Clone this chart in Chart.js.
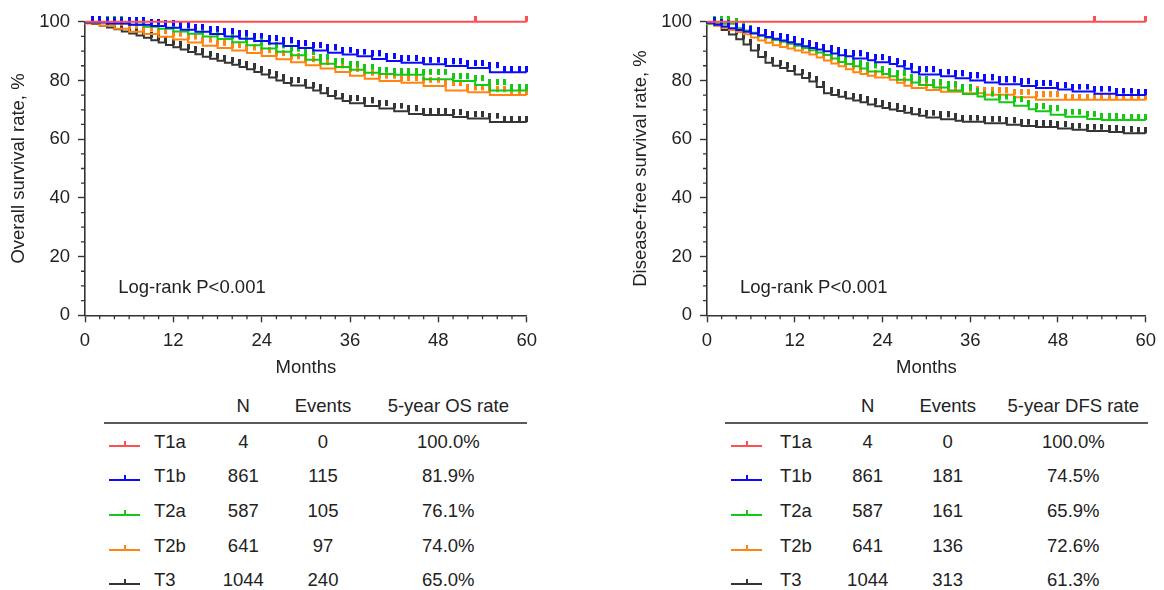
<!DOCTYPE html>
<html>
<head>
<meta charset="utf-8">
<script src="https://cdn.jsdelivr.net/npm/chart.js@4/dist/chart.umd.min.js"></script>
<style>
  body { margin: 0; background: #fff; width: 1164px; height: 590px; position: relative; overflow: hidden;
         font-family: "Liberation Sans", Arial, Helvetica, sans-serif; color: #222; }
  .wrap { position: absolute; top: 0; }
  .cell { position: absolute; font-size: 18.5px; line-height: 22px; white-space: nowrap; transform: translate(-50%, -50%); }
  .lab { position: absolute; font-size: 18.5px; line-height: 22px; white-space: nowrap; transform: translateY(-50%); }
  .rule { position: absolute; height: 2px; background: #5a5a5a; }
  .sym { position: absolute; height: 2px; width: 31px; }
  .sym i { position: absolute; left: 14.5px; bottom: 0; width: 2px; height: 6px; background: inherit; }
</style>
</head>
<body>
<div class="wrap" style="left:0;width:545px;height:390px"><canvas id="osChart" width="545" height="390"></canvas></div>
<div class="wrap" style="left:622px;width:542px;height:390px"><canvas id="dfsChart" width="542" height="390"></canvas></div>
<div id="tables"></div>
<script>
const groups = ['T1a', 'T1b', 'T2a', 'T2b', 'T3'];
const groupColors = ['#ff4f4f', '#0a0aff', '#14c814', '#ff8410', '#353535'];
const nPatients = [4, 861, 587, 641, 1044];
const osEvents = [0, 115, 105, 97, 240];
const osRates = ['100.0%', '81.9%', '76.1%', '74.0%', '65.0%'];
const dfsEvents = [0, 181, 161, 136, 313];
const dfsRates = ['100.0%', '74.5%', '65.9%', '72.6%', '61.3%'];

const xTickValues = [0, 12, 24, 36, 48, 60];
const yTickValues = [0, 20, 40, 60, 80, 100];
const maxMonth = 60;

// censoring ticks (months)
const censorMonths = [1, 2, 3, 4, 5, 6, 7, 8, 9, 10, 11, 12, 13, 14, 15, 16, 17, 18, 19, 20,
  21, 22, 23, 24, 25, 26, 27, 28, 29, 30, 31, 32, 33, 34, 35, 36, 37, 38, 39, 40,
  41, 42, 43, 44, 45, 46, 47, 48, 49, 50, 51, 52, 53, 54, 55, 56, 57, 58, 59, 60];
const censorT1a = [53, 60];

// step points [month, survival %]
const osT1a = [[0, 100]];
const osT1b = [[0, 100], [3, 99.7], [6, 99.4], [9, 99.0], [11, 98.5], [13, 97.9], [15, 97.3], [17, 96.6],
  [19, 95.8], [21, 95.0], [23, 94.2], [25, 93.4], [27, 92.6], [29, 91.7], [31, 91.0], [33, 90.2], [35, 89.4],
  [37, 88.8], [39, 88.2], [41, 87.3], [43, 86.6], [46, 86.0], [49, 85.5], [52, 84.9], [55, 84.2], [57, 82.8]];
const osT2a = [[0, 100], [3, 99.8], [6, 99.4], [8, 99.0], [10, 98.3], [12, 97.6], [14, 96.7], [16, 95.9],
  [18, 95.0], [20, 94.1], [22, 93.0], [24, 92.0], [26, 90.9], [28, 89.8], [30, 88.6], [32, 87.0], [34, 85.7],
  [36, 84.6], [38, 83.6], [40, 82.6], [42, 82.2], [46, 81.9], [50, 80.4], [53, 79.8], [55, 78.4], [58, 76.6]];
const osT2b = [[0, 100], [2, 99.4], [4, 98.6], [6, 97.6], [8, 96.6], [10, 95.8], [12, 94.9], [14, 93.9],
  [16, 92.9], [18, 91.8], [20, 91.0], [22, 90.2], [24, 89.3], [26, 88.3], [28, 87.2], [30, 86.2], [32, 85.2],
  [34, 84.1], [36, 82.9], [38, 81.6], [40, 80.6], [43, 79.8], [46, 79.2], [49, 78.1], [52, 76.6], [55, 76.0], [58, 75.0]];
const osT3 = [[0, 100], [1, 99.7], [2, 99.2], [3, 98.6], [4, 98.0], [5, 97.4], [6, 96.7], [7, 96.0], [8, 95.3],
  [9, 94.5], [10, 93.7], [11, 92.9], [12, 92.1], [13, 91.3], [14, 90.5], [15, 89.7], [16, 88.9], [17, 88.1],
  [18, 87.4], [19, 86.7], [20, 86.0], [21, 85.3], [22, 84.6], [23, 83.8], [24, 82.9], [25, 82.0], [26, 81.0],
  [27, 80.0], [28, 79.1], [30, 78.3], [31, 77.5], [32, 76.6], [33, 75.6], [34, 74.7], [35, 73.8], [36, 73.0],
  [38, 72.2], [40, 71.3], [42, 70.4], [44, 69.5], [46, 68.6], [50, 68.2], [52, 67.5], [55, 67.0], [57, 65.8]];

const dfsT1a = [[0, 100]];
const dfsT1b = [[0, 100], [1, 99.6], [2, 99.0], [3, 98.4], [4, 97.8], [5, 97.2], [6, 96.6], [7, 96.0], [8, 95.4],
  [9, 94.8], [10, 94.2], [11, 93.6], [12, 93.0], [13, 92.3], [14, 91.6], [15, 91.0], [16, 90.5], [17, 89.9],
  [18, 89.2], [19, 88.6], [20, 88.2], [22, 87.5], [23, 86.9], [25, 86.2], [26, 85.6], [27, 84.8], [28, 84.0],
  [29, 82.8], [32, 82.0], [34, 81.4], [36, 80.7], [38, 80.0], [40, 79.3], [43, 78.7], [45, 78.1], [48, 77.4],
  [50, 76.9], [53, 76.2], [56, 75.5], [59, 75.0]];
const dfsT2a = [[0, 100], [4, 99.3], [5, 97.8], [6, 97.0], [7, 96.2], [8, 95.2], [9, 94.5], [10, 93.8], [11, 93.2],
  [12, 92.5], [13, 91.8], [14, 91.0], [15, 90.3], [16, 89.5], [17, 88.7], [18, 87.5], [19, 86.3], [20, 85.6],
  [21, 84.8], [22, 84.1], [24, 83.0], [25, 82.2], [26, 81.4], [28, 80.2], [29, 79.3], [31, 78.4], [33, 77.6],
  [35, 76.6], [37, 75.4], [38, 74.5], [40, 73.5], [42, 72.6], [44, 71.4], [45, 70.2], [47, 69.5], [49, 68.3],
  [52, 67.6], [54, 66.9], [57, 66.5]];
const dfsT2b = [[0, 100], [1, 99.2], [2, 98.6], [3, 97.9], [4, 97.2], [5, 96.5], [6, 95.7], [7, 94.6], [8, 93.6],
  [9, 92.8], [10, 92.0], [11, 91.4], [12, 90.9], [13, 90.2], [14, 89.5], [15, 88.8], [16, 87.8], [17, 86.8],
  [18, 85.8], [19, 84.8], [20, 83.8], [21, 82.8], [22, 82.2], [23, 81.6], [25, 81.0], [26, 80.2], [27, 79.2],
  [28, 78.2], [30, 77.4], [32, 76.7], [35, 76.1], [38, 75.6], [42, 75.1], [45, 74.3], [49, 73.4]];
const dfsT3 = [[0, 100], [1, 99.4], [2, 98.8], [3, 97.2], [4, 95.6], [5, 94.0], [6, 92.2], [7, 90.2], [8, 88.0],
  [9, 86.0], [10, 85.0], [11, 84.2], [12, 83.2], [13, 82.0], [14, 80.8], [15, 79.6], [16, 77.8], [17, 75.6],
  [18, 75.0], [19, 74.4], [20, 73.8], [21, 73.2], [22, 72.6], [23, 71.8], [24, 71.2], [25, 70.6], [26, 70.1],
  [27, 69.6], [28, 69.0], [29, 68.5], [30, 68.0], [32, 67.4], [34, 66.8], [35, 66.3], [38, 65.9], [41, 65.4],
  [43, 64.9], [45, 64.5], [48, 64.1], [50, 63.6], [52, 63.2], [55, 62.8], [57, 62.4], [59, 62.0]];

const fontFamily = '"Liberation Sans", Arial, Helvetica, sans-serif';
Chart.defaults.font.family = fontFamily;
Chart.defaults.color = '#222';

function stepData(steps) {
    const pts = steps.map(([m, s]) => ({ x: m, y: s }));
    pts.push({ x: maxMonth, y: steps[steps.length - 1][1] });
    return pts;
}

function survivalAt(steps, month) {
    let s = steps[0][1];
    steps.forEach(([m, v]) => { if (m <= month) s = v; });
    return s;
}

// small upward tick used as censor mark
function markImage(color) {
    const c = document.createElement('canvas');
    c.width = 3;
    c.height = 12;
    const g = c.getContext('2d');
    g.fillStyle = color;
    g.fillRect(0, 0, 3, 6);
    return c;
}

const minorTicks = {
    id: 'minorTicks',
    afterDraw(chart, args, opts) {
        const { ctx, scales: { x, y } } = chart;
        ctx.save();
        ctx.strokeStyle = '#333';
        ctx.lineWidth = 1.3;
        ctx.beginPath();
        for (let v = x.min; v <= x.max; v += opts.xStep) {
            if (xTickValues.includes(v)) continue;
            const px = x.getPixelForValue(v);
            ctx.moveTo(px, y.bottom);
            ctx.lineTo(px, y.bottom + opts.len);
        }
        for (let v = y.min; v <= y.max; v += opts.yStep) {
            if (yTickValues.includes(v)) continue;
            const py = y.getPixelForValue(v);
            ctx.moveTo(x.left, py);
            ctx.lineTo(x.left - opts.len, py);
        }
        ctx.stroke();
        ctx.restore();
    }
};

const logRankNote = {
    id: 'logRankNote',
    afterDraw(chart, args, opts) {
        const { ctx, scales: { x, y } } = chart;
        ctx.save();
        ctx.font = '18.5px ' + fontFamily;
        ctx.fillStyle = '#222';
        ctx.textBaseline = 'middle';
        ctx.fillText(opts.text, x.getPixelForValue(opts.x), y.getPixelForValue(opts.y));
        ctx.restore();
    }
};

function makeChart(canvasId, curves, yTitle, padRight) {
    const datasets = [];
    curves.forEach((steps, i) => {
        datasets.push({
            data: stepData(steps),
            stepped: 'after',
            borderColor: groupColors[i],
            borderWidth: 2,
            pointRadius: 0,
            fill: false,
            clip: false
        });
        const cm = i === 0 ? censorT1a : censorMonths;
        datasets.push({
            data: cm.map(m => ({ x: m, y: survivalAt(steps, m) })),
            showLine: false,
            pointStyle: markImage(groupColors[i]),
            pointRadius: 5,
            clip: false
        });
    });

    const tickFont = { size: 18.5, family: fontFamily };

    new Chart(document.getElementById(canvasId), {
        type: 'line',
        data: { datasets: datasets },
        options: {
            responsive: false,
            animation: false,
            layout: { padding: { top: 21.7, right: padRight, left: 0, bottom: 0 } },
            plugins: {
                legend: { display: false },
                tooltip: { enabled: false },
                minorTicks: { xStep: 2, yStep: 5, len: 4 },
                logRankNote: { text: 'Log-rank P<0.001', x: 4.5, y: 9.3 }
            },
            scales: {
                x: {
                    type: 'linear',
                    min: 0,
                    max: maxMonth,
                    afterBuildTicks: s => { s.ticks = xTickValues.map(v => ({ value: v })); },
                    afterFit: s => { s.height = 74.7; },
                    grid: { drawOnChartArea: false, drawTicks: true, tickLength: 7, tickColor: '#333', tickWidth: 1.4 },
                    border: { display: true, color: '#333', width: 1.6 },
                    ticks: { font: tickFont, color: '#222', padding: 8, maxRotation: 0, autoSkip: false },
                    title: { display: true, text: 'Months', color: '#222', font: tickFont, padding: { top: 0, bottom: 11 } }
                },
                y: {
                    min: 0,
                    max: 100,
                    afterBuildTicks: s => { s.ticks = yTickValues.map(v => ({ value: v })); },
                    afterFit: s => { s.width = 85; },
                    grid: { drawOnChartArea: false, drawTicks: true, tickLength: 7, tickColor: '#333', tickWidth: 1.4 },
                    border: { display: true, color: '#333', width: 1.6 },
                    ticks: { font: tickFont, color: '#222', padding: 8 },
                    title: { display: true, text: yTitle, color: '#222', font: tickFont, padding: { top: 8, bottom: 0 } }
                }
            }
        },
        plugins: [minorTicks, logRankNote]
    });
}

makeChart('osChart', [osT1a, osT1b, osT2a, osT2b, osT3], 'Overall survival rate, %', 18.3);
makeChart('dfsChart', [dfsT1a, dfsT1b, dfsT2a, dfsT2b, dfsT3], 'Disease-free survival rate, %', 14);

// tables under the charts
function buildTable(pos, events, rates, rateTitle) {
    const box = document.getElementById('tables');
    const add = (cls, style, html) => {
        const d = document.createElement('div');
        d.className = cls;
        d.setAttribute('style', style);
        d.innerHTML = html || '';
        box.appendChild(d);
        return d;
    };
    const headerY = 406, ruleY = 422, rowY0 = 441.7, rowGap = 34.6;
    add('cell', `left:${pos.n}px;top:${headerY}px`, 'N');
    add('cell', `left:${pos.ev}px;top:${headerY}px`, 'Events');
    add('cell', `left:${pos.rate}px;top:${headerY}px`, rateTitle);
    add('rule', `left:${pos.ruleL}px;width:${pos.ruleR - pos.ruleL}px;top:${ruleY}px`);
    groups.forEach((g, i) => {
        const y = rowY0 + i * rowGap;
        add('sym', `left:${pos.sym}px;top:${y + 3}px;background:${groupColors[i]}`, '<i></i>');
        add('lab', `left:${pos.lab}px;top:${y}px`, g);
        add('cell', `left:${pos.n}px;top:${y}px`, String(nPatients[i]));
        add('cell', `left:${pos.ev}px;top:${y}px`, String(events[i]));
        add('cell', `left:${pos.rate}px;top:${y}px`, rates[i]);
    });
}

buildTable({ sym: 109, lab: 154, n: 243.3, ev: 323, rate: 448.3, ruleL: 104, ruleR: 527.3 }, osEvents, osRates, '5-year OS rate');
buildTable({ sym: 731, lab: 780, n: 867.7, ev: 947.7, rate: 1073.3, ruleL: 725, ruleR: 1148.3 }, dfsEvents, dfsRates, '5-year DFS rate');
</script>
</body>
</html>
